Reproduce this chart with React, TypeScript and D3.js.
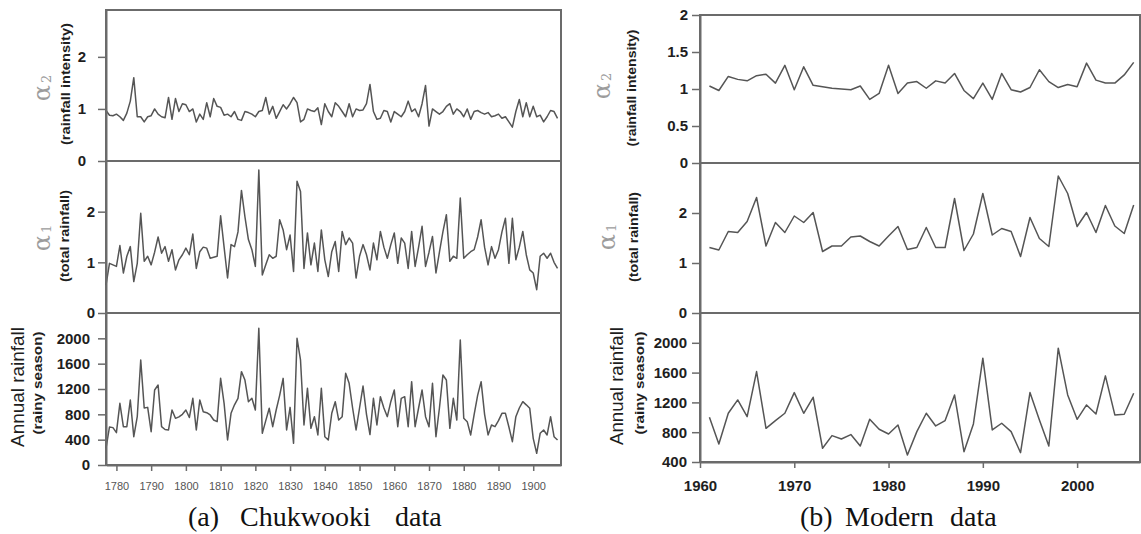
import { useEffect, useRef } from "react";
import { axisBottom, axisLeft, line, range, scaleLinear, select } from "d3";

// Chukwooki rain-gauge record, one value per year from 1777 to 1907
const oldYears = range(1777, 1908);
const oldAlpha2 = [
  0.97, 0.88, 0.87, 0.9, 0.85, 0.78, 0.92, 1.15, 1.6, 0.85,
  0.85, 0.75, 0.85, 0.87, 1.0, 0.9, 0.85, 0.83, 1.22, 0.8,
  1.2, 0.95, 1.1, 1.08, 0.95, 1.0, 0.75, 0.9, 0.8, 1.12,
  0.85, 1.2, 1.05, 1.03, 0.88, 0.9, 0.85, 0.95, 0.8, 0.78,
  0.95, 0.93, 0.9, 0.85, 0.95, 0.97, 1.22, 0.9, 1.05, 0.82,
  0.95, 1.08, 1.0, 1.1, 1.22, 1.12, 0.75, 0.8, 1.0, 0.97,
  0.95, 1.02, 0.7, 1.1, 0.95, 0.85, 1.12, 1.05, 0.95, 0.85,
  1.1, 0.85, 1.0, 0.97, 0.98, 1.1, 1.47, 0.95, 0.8, 0.82,
  0.97, 0.95, 0.75, 0.95, 0.9, 0.85, 0.95, 1.15, 0.95, 1.0,
  0.85, 1.1, 1.45, 0.67, 1.0, 0.95, 0.9, 0.95, 1.05, 1.1,
  0.9, 1.0, 0.95, 0.85, 1.0, 0.8, 0.95, 0.97, 0.93, 0.9,
  0.93, 0.85, 0.87, 0.9, 0.82, 0.85, 0.75, 0.65, 0.95, 1.18,
  0.85, 1.12, 0.85, 1.05, 0.85, 0.88, 0.75, 0.85, 0.97, 0.95,
  0.82,
];
const oldAlpha1 = [
  0.55, 0.98, 0.95, 0.92, 1.33, 0.79, 1.12, 1.31, 0.62, 0.98,
  1.97, 1.02, 1.12, 0.95, 1.2, 1.5, 1.18, 1.31, 1.02, 1.25,
  0.85, 1.05, 1.15, 1.28, 1.15, 1.56, 0.88, 1.21, 1.3, 1.28,
  1.08, 1.1, 1.12, 1.92, 1.3, 0.69, 1.35, 1.31, 1.6, 2.42,
  1.9, 1.45, 1.25, 0.92, 2.82, 0.75, 0.95, 1.15, 1.08, 1.12,
  1.84, 1.64, 1.25, 1.54, 0.82, 2.6, 2.4, 0.88, 1.58, 0.95,
  1.38, 0.82, 1.64, 1.05, 0.72, 1.21, 1.41, 0.82, 1.61, 1.35,
  1.48, 1.38, 0.69, 1.12, 1.35, 1.15,
  0.85, 1.38, 1.05, 1.61, 1.3, 1.08, 1.35, 1.58, 0.98, 1.48,
  1.38, 0.88, 1.61, 0.92, 1.3, 1.71, 0.92, 1.2, 1.51, 0.79,
  1.2, 1.6, 1.94, 1.02, 1.12, 1.08, 2.27, 1.08, 1.15, 1.21,
  1.25, 1.5, 1.84, 1.3, 0.95, 1.31, 1.08, 1.25, 1.6, 1.87,
  0.98, 1.87, 1.05, 1.3, 1.61, 1.15, 0.85, 0.79, 0.46, 1.12,
  1.18, 1.08, 1.18, 1.0, 0.88,
];
const oldRain = [
  263, 600, 590, 510, 974, 605, 605, 1026, 447, 763,
  1658, 900, 910, 526, 1184, 1263, 605, 560, 553, 868,
  737, 760, 800, 868, 750, 1053, 553, 1026, 842, 826,
  790, 710, 684, 1368, 974, 395, 816, 950, 1053, 1474,
  1342, 1000, 1053, 868, 2158, 500, 700, 895, 605, 868,
  1100, 1368, 553, 910, 342, 2000, 1658, 632, 1210, 579,
  763, 474, 1210, 447, 395, 816, 1000, 710, 763, 1447,
  1289, 900, 553, 900, 1247, 800,
  480, 1053, 632, 1079, 900, 763, 1000, 1184, 605, 1053,
  1079, 605, 1316, 605, 900, 1184, 763, 605, 1289, 447,
  900, 1421, 1342, 579, 1053, 710, 1974, 737, 684, 474,
  800, 1100, 1316, 800, 474, 632, 605, 700, 816, 816,
  600, 368, 763, 900, 1000, 950, 895, 421, 184, 500,
  553, 474, 763, 447, 395,
];

// modern record, 1961 to 2006
const modernYears = range(1961, 2007);
const modernAlpha2 = [
  1.04, 0.98, 1.17, 1.13, 1.11, 1.18, 1.2, 1.08, 1.32, 0.99,
  1.3, 1.05, 1.03, 1.01, 1.0, 0.99, 1.04, 0.86, 0.94, 1.32,
  0.94, 1.08, 1.1, 1.01, 1.11, 1.08, 1.21, 0.98, 0.87, 1.08,
  0.86, 1.21, 0.99, 0.96, 1.02, 1.26, 1.1, 1.02, 1.06, 1.03,
  1.35, 1.12, 1.08, 1.08, 1.19, 1.36,
];
const modernAlpha1 = [
  1.31, 1.26, 1.63, 1.61, 1.83, 2.31, 1.34, 1.81, 1.61, 1.94,
  1.81, 2.01, 1.23, 1.34, 1.34, 1.52, 1.54, 1.43, 1.34, 1.54,
  1.73, 1.27, 1.31, 1.71, 1.31, 1.31, 2.29, 1.25, 1.58, 2.39,
  1.56, 1.69, 1.63, 1.13, 1.91, 1.49, 1.33, 2.74, 2.39, 1.73,
  2.01, 1.61, 2.15, 1.74, 1.59, 2.16,
];
const modernRain = [
  1000, 642, 1054, 1233, 1009, 1614, 852, 956, 1054, 1332,
  1054, 1269, 584, 754, 709, 768, 615, 973, 839, 776,
  897, 494, 808, 1054, 884, 956, 1300, 539, 911, 1793,
  830, 920, 808, 525, 1332, 964, 615, 1928, 1300, 973,
  1166, 1045, 1556, 1032, 1041, 1323,
];

const oldYearTicks = [1780, 1790, 1800, 1810, 1820, 1830, 1840, 1850, 1860, 1870, 1880, 1890, 1900];
const modernYearTicks = [1960, 1970, 1980, 1990, 2000];
const alphaTicks = [0, 1, 2];
const modernAlpha2Ticks = [0, 0.5, 1, 1.5, 2];
const oldRainTicks = [0, 400, 800, 1200, 1600, 2000];
const modernRainTicks = [400, 800, 1200, 1600, 2000];

const SANS = "'Liberation Sans', Arial, Helvetica, sans-serif";
const SERIF = "'Liberation Serif', 'DejaVu Serif', serif";
const INK = "#1e1e1e";
const FRAME = "#6b6b6b";
const STROKE = "#555";

function YAxis({ scale, ticks, x, pad }) {
  const ref = useRef(null);
  useEffect(() => {
    if (!ref.current) return;
    const g = select(ref.current);
    g.call(
      axisLeft(scale)
        .tickValues(ticks)
        .tickSize(8)
        .tickSizeOuter(0)
        .tickPadding(pad)
        .tickFormat((d) => String(d))
    );
    g.attr("font-family", null).attr("font-size", null);
    g.select(".domain").attr("stroke", FRAME).attr("stroke-width", 2);
    g.selectAll(".tick line").attr("stroke", FRAME).attr("stroke-width", 1.5);
    g.selectAll(".tick text")
      .attr("fill", INK)
      .attr("font-family", SANS)
      .attr("font-size", 15)
      .attr("font-weight", "bold");
  }, [scale, ticks, pad]);
  return <g ref={ref} transform={`translate(${x},0)`} />;
}

function XAxis({ scale, ticks, y, size, bold, color, pad }) {
  const ref = useRef(null);
  useEffect(() => {
    if (!ref.current) return;
    const g = select(ref.current);
    g.call(
      axisBottom(scale)
        .tickValues(ticks)
        .tickSize(6)
        .tickSizeOuter(0)
        .tickPadding(pad)
        .tickFormat((d) => String(d))
    );
    g.attr("font-family", null).attr("font-size", null);
    g.select(".domain").attr("stroke", FRAME).attr("stroke-width", 2);
    g.selectAll(".tick line").attr("stroke", FRAME).attr("stroke-width", 1.5);
    g.selectAll(".tick text")
      .attr("fill", color)
      .attr("font-family", SANS)
      .attr("font-size", size)
      .attr("font-weight", bold ? "bold" : "normal");
  }, [scale, ticks, pad]);
  return <g ref={ref} transform={`translate(0,${y})`} />;
}

function Series({ years, values, x, y }) {
  const d = line()
    .x((_, i) => x(years[i]))
    .y((v) => y(v))(values);
  return <path d={d || ""} fill="none" stroke={STROKE} strokeWidth={1.5} strokeLinejoin="round" />;
}

function AlphaLabel({ x, y, sub }) {
  return (
    <text
      transform={`translate(${x},${y}) rotate(-90)`}
      textAnchor="middle"
      fill="#9c9c9c"
      fontFamily="'DejaVu Serif', serif"
    >
      <tspan fontSize={24}>α</tspan>
      <tspan fontSize={13} dy={1} dx={2}>{sub}</tspan>
    </text>
  );
}

function SideLabel({ x, y, text, size, weight, length }) {
  return (
    <text
      transform={`translate(${x},${y}) rotate(-90)`}
      textAnchor="middle"
      dominantBaseline="central"
      fill={INK}
      fontFamily={SANS}
      fontSize={size}
      fontWeight={weight}
      textLength={length}
      lengthAdjust="spacingAndGlyphs"
    >
      {text}
    </text>
  );
}

function Chart({ years, xDomain, xRange, panels, xTicks, xAxis }) {
  const x = scaleLinear().domain(xDomain).range(xRange);
  const [x0, x1] = xRange;
  const bottom = panels[panels.length - 1].range[0];
  return (
    <g>
      {panels.map((p, i) => {
        const y = scaleLinear().domain(p.domain).range(p.range);
        return (
          <g key={i}>
            <rect
              x={x0}
              y={p.range[1]}
              width={x1 - x0}
              height={p.range[0] - p.range[1]}
              fill="none"
              stroke={FRAME}
              strokeWidth={2}
            />
            <Series years={years} values={p.values} x={x} y={y} />
            <YAxis scale={y} ticks={p.ticks} x={x0} pad={p.pad} />
          </g>
        );
      })}
      <XAxis scale={x} ticks={xTicks} y={bottom} {...xAxis} />
    </g>
  );
}

export default function App() {
  const oldPanels = [
    { values: oldAlpha2, domain: [0, 2.9], range: [161, 10], ticks: alphaTicks, pad: 12 },
    { values: oldAlpha1, domain: [0, 3], range: [313, 161], ticks: alphaTicks, pad: 3 },
    { values: oldRain, domain: [0, 2400], range: [465, 313], ticks: oldRainTicks, pad: 8 },
  ];
  const modernPanels = [
    { values: modernAlpha2, domain: [0, 2], range: [163, 15], ticks: modernAlpha2Ticks, pad: 4 },
    { values: modernAlpha1, domain: [0, 3], range: [313, 163], ticks: alphaTicks, pad: 5 },
    { values: modernRain, domain: [400, 2400], range: [462, 313], ticks: modernRainTicks, pad: 5 },
  ];

  return (
    <svg
      width={1141}
      height={534}
      style={{ position: "absolute", left: 0, top: 0, background: "#fff" }}
    >
      <rect width={1141} height={534} fill="#fff" />

      <Chart
        years={oldYears}
        xDomain={[1777, 1908]}
        xRange={[106, 561]}
        panels={oldPanels}
        xTicks={oldYearTicks}
        xAxis={{ size: 11, bold: false, color: "#555", pad: 11 }}
      />
      <AlphaLabel x={50} y={88} sub="2" />
      <SideLabel x={65} y={84} text="(rainfall intensity)" size={13} weight="bold" length={122} />
      <AlphaLabel x={50} y={238} sub="1" />
      <SideLabel x={64} y={236} text="(total rainfall)" size={13} weight="bold" length={92} />
      <SideLabel x={18} y={387} text="Annual rainfall" size={18} weight="normal" length={120} />
      <SideLabel x={37} y={383} text="(rainy season)" size={13} weight="bold" length={103} />

      <Chart
        years={modernYears}
        xDomain={[1960, 2006.67]}
        xRange={[700, 1140]}
        panels={modernPanels}
        xTicks={modernYearTicks}
        xAxis={{ size: 15, bold: true, color: INK, pad: 12 }}
      />
      <AlphaLabel x={610} y={86} sub="2" />
      <SideLabel x={631} y={88} text="(rainfall intensity)" size={13} weight="bold" length={117} />
      <AlphaLabel x={615} y={237} sub="1" />
      <SideLabel x={633} y={237} text="(total rainfall)" size={13} weight="bold" length={90} />
      <SideLabel x={617} y={386} text="Annual rainfall" size={18} weight="normal" length={118} />
      <SideLabel x={639} y={383} text="(rainy season)" size={13} weight="bold" length={103} />

      <text y={526} fill="#111" fontFamily={SERIF} fontSize={28}>
        <tspan x={188}>(a)</tspan>
        <tspan x={240}>Chukwooki</tspan>
        <tspan x={395}>data</tspan>
      </text>
      <text y={526} fill="#111" fontFamily={SERIF} fontSize={28}>
        <tspan x={800}>(b)</tspan>
        <tspan x={845}>Modern</tspan>
        <tspan x={950}>data</tspan>
      </text>
    </svg>
  );
}
